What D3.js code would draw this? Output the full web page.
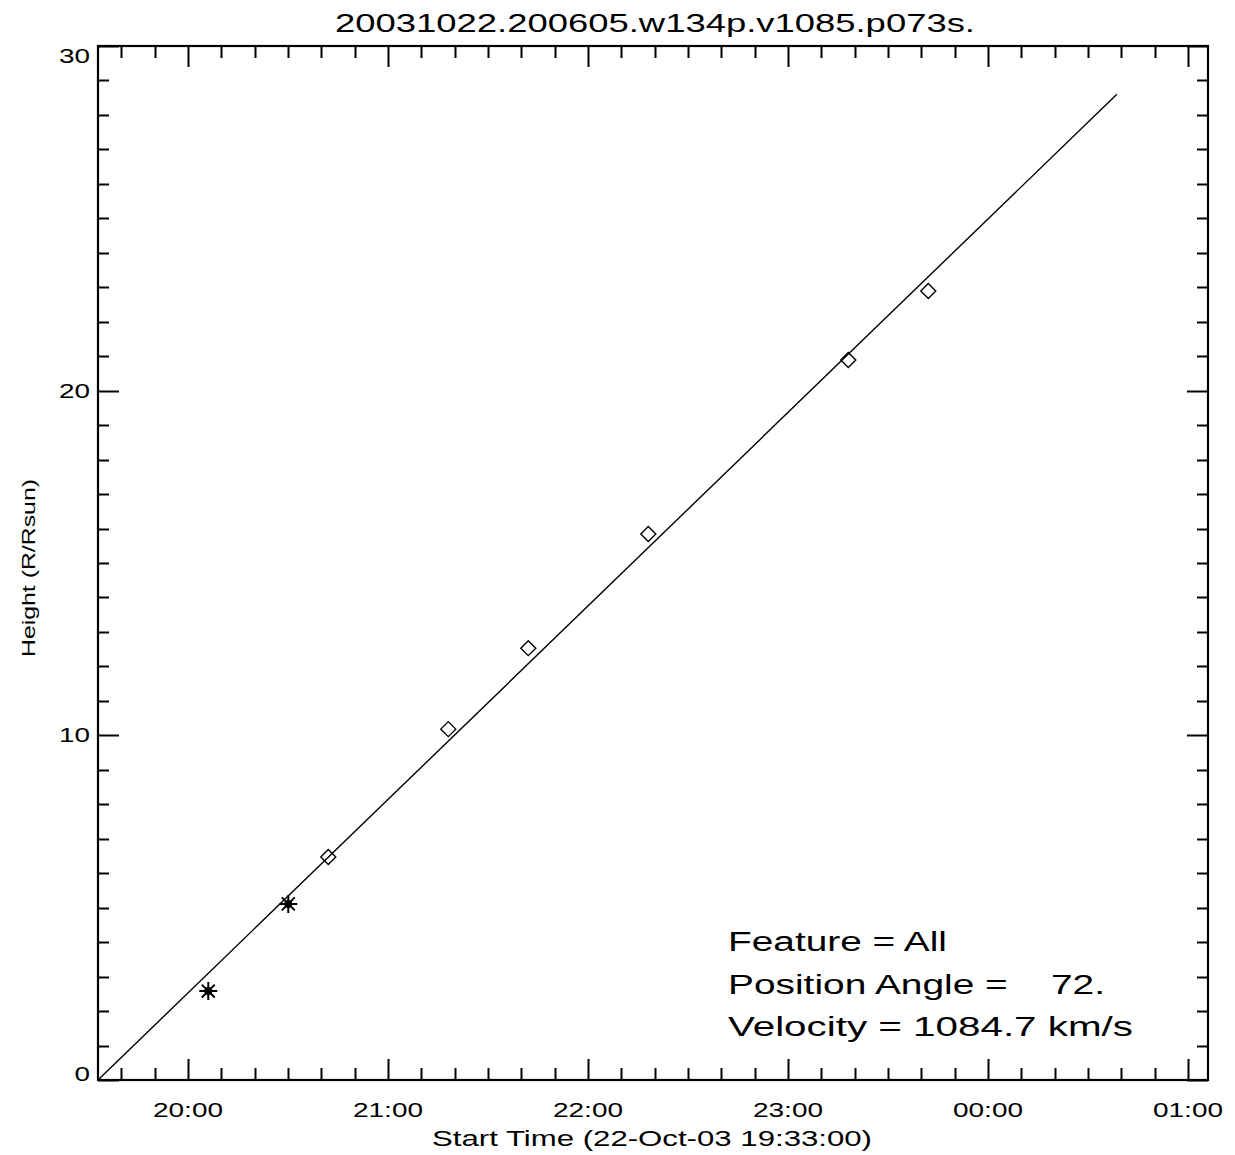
<!DOCTYPE html>
<html><head><meta charset="utf-8">
<script src="https://cdn.jsdelivr.net/npm/d3@7"></script>
<style>body{margin:0;background:#fff}svg{display:block}text{font-family:"Liberation Sans",Arial,sans-serif;fill:#000}</style>
</head><body><svg id="c" width="1235" height="1155"></svg>
<script>
const title = "20031022.200605.w134p.v1085.p073s.";
const xLabel = "Start Time (22-Oct-03 19:33:00)";
const yLabel = "Height (R/Rsun)";
const annotations = ["Feature = All", "Position Angle =    72.", "Velocity = 1084.7 km/s"];
const xDomain = ["2003-10-22T19:33:00Z", "2003-10-23T01:06:00Z"];
const yDomain = [0, 30];
const yTicks = [0, 10, 20, 30];
const starTimes = ["2003-10-22T20:06:05Z", "2003-10-22T20:30:05Z"];
const starHeights = [2.58, 5.11];
const diamondTimes = ["2003-10-22T20:42:05Z", "2003-10-22T21:18:05Z", "2003-10-22T21:42:05Z", "2003-10-22T22:18:05Z", "2003-10-22T23:18:05Z", "2003-10-22T23:42:05Z"];
const diamondHeights = [6.47, 10.18, 12.53, 15.84, 20.89, 22.89];
const fitTimes = ["2003-10-22T19:33:00Z", "2003-10-23T00:38:40Z"];
const fitHeights = [0, 28.6];

const L = 98, R = 1208, T = 46, B = 1080;
const svg = d3.select("#c");
const x = d3.scaleUtc().domain(xDomain.map(d => new Date(d))).range([L, R]);
const y = d3.scaleLinear().domain(yDomain).range([B, T]);

const g = svg.append("g");
const majorX = x.ticks(d3.utcHour.every(1));
const minorX = x.ticks(d3.utcMinute.every(10)).filter(d => d.getUTCMinutes() !== 0);
function vt(xs, len) {
  xs.forEach(d => {
    const px = Math.round(x(d)) + 0.5;
    g.append("line").attr("x1", px).attr("x2", px).attr("y1", B).attr("y2", B - len).attr("stroke", "#000").attr("stroke-width", 2);
    g.append("line").attr("x1", px).attr("x2", px).attr("y1", T).attr("y2", T + len).attr("stroke", "#000").attr("stroke-width", 2);
  });
}
vt(majorX, 21); vt(minorX, 12);
const majorY = yTicks;
const minorY = d3.range(yDomain[0], yDomain[1] + 1, 1).filter(v => v % 10 !== 0);
function ht(ys, len) {
  ys.forEach(v => {
    const py = Math.round(y(v)) + 0.5;
    g.append("line").attr("x1", L).attr("x2", L + len).attr("y1", py).attr("y2", py).attr("stroke", "#000").attr("stroke-width", 2);
    g.append("line").attr("x1", R).attr("x2", R - len).attr("y1", py).attr("y2", py).attr("stroke", "#000").attr("stroke-width", 2);
  });
}
ht(majorY, 21); ht(minorY, 11);
g.append("rect").attr("x", L).attr("y", T).attr("width", R - L).attr("height", B - T).attr("fill", "none").attr("stroke", "#000").attr("stroke-width", 2.2);

const fmt = d3.utcFormat("%H:%M");
majorX.forEach(d => {
  g.append("text").attr("x", x(d)).attr("y", 1117).attr("text-anchor", "middle").attr("font-size", 20)
    .attr("textLength", 70).attr("lengthAdjust", "spacingAndGlyphs").text(fmt(d));
});
majorY.forEach(v => {
  let py = y(v) + 7;
  if (v === yDomain[1]) py = y(v) + 17;
  if (v === yDomain[0]) py = y(v) + 1;
  g.append("text").attr("x", 90).attr("y", py).attr("text-anchor", "end").attr("font-size", 20)
    .attr("textLength", String(v).length * 15.5).attr("lengthAdjust", "spacingAndGlyphs").text(v);
});

const line = d3.line().x(d => x(d.t)).y(d => y(d.h));
const fit = fitTimes.map((t, i) => ({t: new Date(t), h: fitHeights[i]}));
g.append("path").attr("d", line(fit)).attr("fill", "none").attr("stroke", "#000").attr("stroke-width", 1.4);

diamondTimes.forEach((t, i) => {
  const cx = x(new Date(t)), cy = y(diamondHeights[i]), s = 7.5;
  g.append("path").attr("d", `M${cx},${cy - s}L${cx + s},${cy}L${cx},${cy + s}L${cx - s},${cy}Z`)
    .attr("fill", "none").attr("stroke", "#000").attr("stroke-width", 1.4);
});
starTimes.forEach((t, i) => {
  const cx = x(new Date(t)), cy = y(starHeights[i]), s = 9, d = s * 0.72;
  g.append("path").attr("d", `M${cx - s},${cy}L${cx + s},${cy}M${cx},${cy - s}L${cx},${cy + s}M${cx - d},${cy - d}L${cx + d},${cy + d}M${cx - d},${cy + d}L${cx + d},${cy - d}`)
    .attr("stroke", "#000").attr("stroke-width", 2);
  g.append("circle").attr("cx", cx).attr("cy", cy).attr("r", 4).attr("fill", "#000");
});

svg.append("text").attr("x", 655).attr("y", 32).attr("text-anchor", "middle").attr("font-size", 25)
  .attr("textLength", 640).attr("lengthAdjust", "spacingAndGlyphs").text(title);
svg.append("text").attr("x", 652).attr("y", 1146).attr("text-anchor", "middle").attr("font-size", 22)
  .attr("textLength", 440).attr("lengthAdjust", "spacingAndGlyphs").text(xLabel);
svg.append("text").attr("transform", "translate(35,568) rotate(-90)").attr("text-anchor", "middle").attr("font-size", 19)
  .attr("textLength", 178).attr("lengthAdjust", "spacingAndGlyphs").text(yLabel);

const annW = [219, 377, 405];
annotations.forEach((s, i) => {
  svg.append("text").attr("x", 728).attr("y", 951 + i * 42.5).attr("font-size", 27)
    .style("white-space", "pre").attr("textLength", annW[i]).attr("lengthAdjust", "spacingAndGlyphs").text(s);
});
</script></body></html>
